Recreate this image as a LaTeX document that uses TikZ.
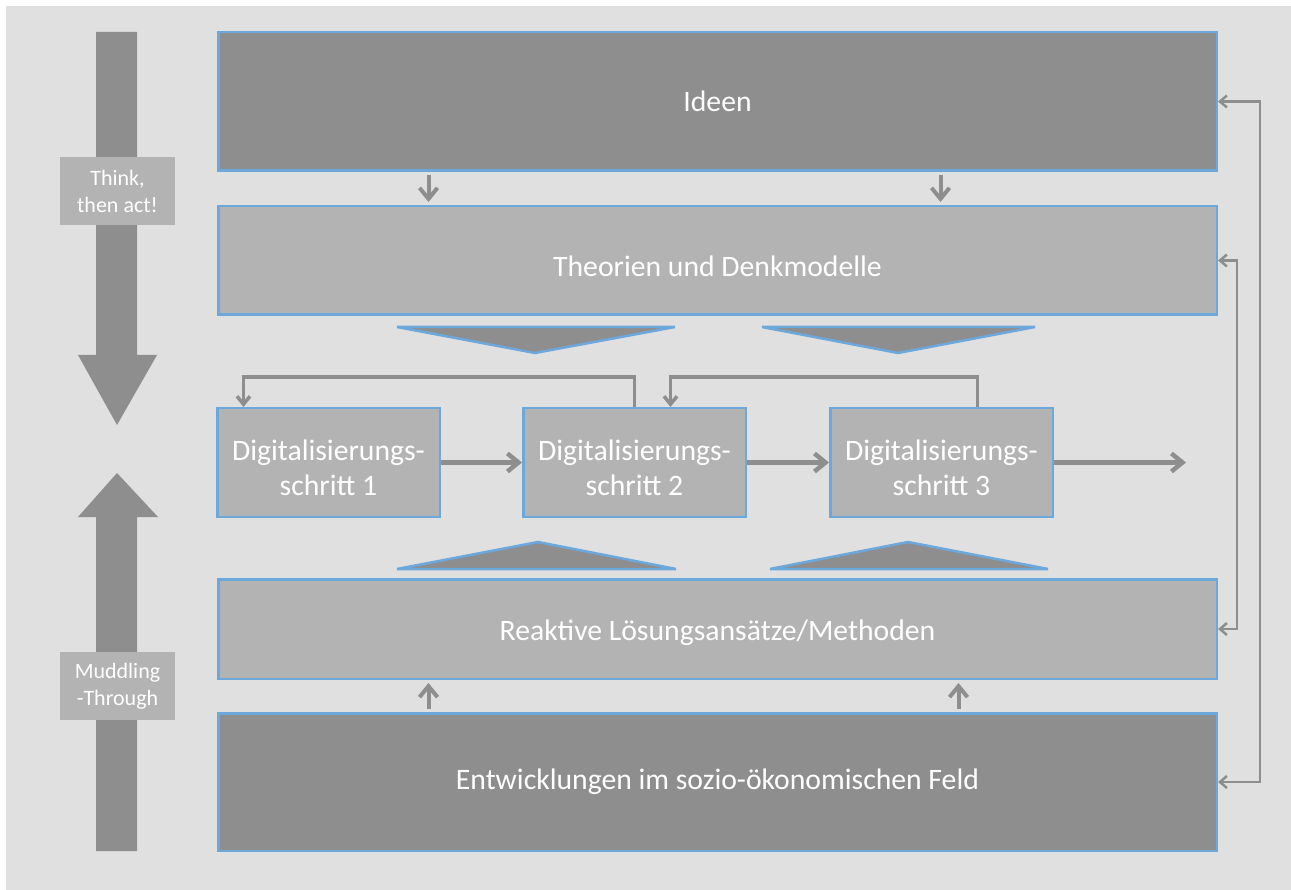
\documentclass[tikz,border=0pt]{standalone}
\usepackage{fontspec}
\setmainfont{Carlito}
\usetikzlibrary{arrows.meta,positioning}
\definecolor{bgback}{HTML}{E0E0E0}
\definecolor{boxdark}{HTML}{8E8E8E}
\definecolor{boxlight}{HTML}{B3B3B3}
\definecolor{edgeblue}{HTML}{6CA8DC}
\newcommand{\txtdrop}[1]{\rule{0pt}{#1}}

\begin{document}
\begin{tikzpicture}[x=1pt, y=-1pt,
  block/.style={draw=edgeblue, line width=2.5pt, text=white, align=center, inner sep=0pt, font=\fontsize{29.7}{35}\selectfont, minimum width=998.5pt},
  darkblock/.style={block, fill=boxdark},
  lightblock/.style={block, fill=boxlight},
  stepbox/.style={block, fill=boxlight, minimum width=222.5pt, minimum height=108.5pt},
  tagbox/.style={fill=boxlight, text=white, align=center, inner sep=0pt, font=\fontsize{22}{27}\selectfont, minimum width=115pt, minimum height=68pt},
  wedge/.style={fill=boxdark, draw=edgeblue, line width=2.5pt},
  arr/.style={-{Straight Barb[length=11pt,width=18pt]}, line width=4.5pt, boxdark},
  darr/.style={-{Straight Barb[length=11pt,width=18pt]}, line width=4pt, boxdark},
  back/.style={-{Straight Barb[length=8pt,width=13pt]}, line width=3.5pt, boxdark},
  rback/.style={{Straight Barb[length=7pt,width=12pt]}-{Straight Barb[length=7pt,width=12pt]}, line width=2.5pt, boxdark}
]
\useasboundingbox (0,0) rectangle (1291,890);
\fill[bgback] (6,6) rectangle (1291,890);

% main column
\node[darkblock, minimum height=138.5pt] (ideen) at (717.5,101.5) {Ideen};
\node[lightblock, minimum height=108.5pt, below=33pt of ideen] (theorien) {\txtdrop{32pt}Theorien und Denkmodelle};
\node[lightblock, minimum height=99.5pt] (reaktiv) at (717.5,629) {\txtdrop{29pt}Reaktive Lösungsansätze/Methoden};
\node[darkblock, minimum height=137.5pt, below=32pt of reaktiv] (entw) {Entwicklungen im sozio-ökonomischen Feld};

% steps
\node[stepbox] (step1) at (328.5,462.5) {\txtdrop{32pt}Digitalisierungs-\\schritt 1};
\node[stepbox, right=81pt of step1] (step2) {\txtdrop{32pt}Digitalisierungs-\\schritt 2};
\node[stepbox, right=82pt of step2] (step3) {\txtdrop{32pt}Digitalisierungs-\\schritt 3};
\coordinate (weiter) at (1186,462.5);

% wedges
\filldraw[wedge] (397,327) -- (675,327) -- (535,353) -- cycle;
\filldraw[wedge] (762,327) -- (1035,327) -- (898,353) -- cycle;
\filldraw[wedge] (397,569) -- (676,569) -- (538,542) -- cycle;
\filldraw[wedge] (770,569) -- (1048,569) -- (908,542) -- cycle;

% left arrows
\fill[boxdark] (96,32) -- (137,32) -- (137,355) -- (157,355) -- (117,425) -- (78,355) -- (96,355) -- cycle;
\fill[boxdark] (117,473) -- (158,517) -- (137,517) -- (137,851) -- (96,851) -- (96,517) -- (78,517) -- cycle;
\node[tagbox] (think) at (117.5,191) {Think,\\then act!};
\node[tagbox] (muddle) at (117.5,686) {Muddling\\-Through};

% connectors
\foreach \dx in {-289,223}
  \draw[darr, shorten <=3pt, shorten >=3pt] ([xshift=\dx pt]ideen.south) -- ([xshift=\dx pt]theorien.north);
\foreach \dx in {-289,241}
  \draw[darr, shorten <=3pt, shorten >=3pt] ([xshift=\dx pt]entw.north) -- ([xshift=\dx pt]reaktiv.south);

\draw[arr] (step1) -- (step2);
\draw[arr] (step2) -- (step3);
\draw[arr] (step3) -- (weiter);

\draw[back] (step2.north) -- ++(0,-30) -| ([xshift=-85pt]step1.north);
\draw[back] ([xshift=36pt]step3.north) -- ++(0,-30) -| ([xshift=36pt]step2.north);

\draw[rback] (ideen.east) -- ++(42,0) |- (entw.east);
\draw[rback] (theorien.east) -- ++(19,0) |- (reaktiv.east);

\end{tikzpicture}
\end{document}
